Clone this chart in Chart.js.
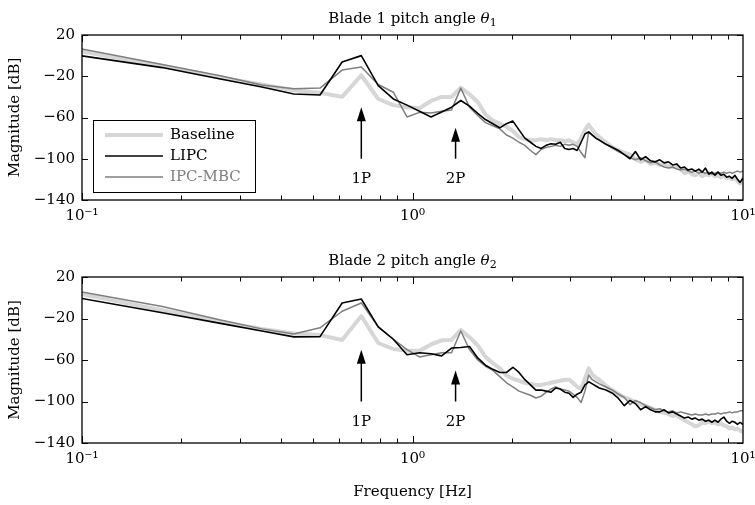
<!DOCTYPE html>
<html>
<head>
<meta charset="utf-8">
<script src="https://cdn.jsdelivr.net/npm/chart.js@4.4.1/dist/chart.umd.min.js"></script>
<style>
  html, body { margin: 0; padding: 0; background: #fff; }
  #wrap { position: relative; width: 755px; height: 505px; }
  .panel { position: absolute; left: 0; width: 755px; }
  #p1 { top: 0; height: 240px; }
  #p2 { top: 240px; height: 265px; }
</style>
</head>
<body>
<div id="wrap">
  <div class="panel" id="p1"><canvas id="c1"></canvas></div>
  <div class="panel" id="p2"><canvas id="c2"></canvas></div>
</div>
<script>
// frequency bins [Hz], shared by all curves
const freq = [
  0.0875, 0.175, 0.2625, 0.35, 0.4375, 0.525, 0.6125, 0.7, 0.7875, 0.875,
  0.9625, 1.05, 1.1375, 1.225, 1.3125, 1.4, 1.4875, 1.575, 1.6625, 1.75,
  1.8375, 1.925, 2.0125, 2.1, 2.1875, 2.275, 2.3625, 2.45, 2.5375, 2.625,
  2.7125, 2.8, 2.8875, 2.975, 3.0625, 3.15, 3.2375, 3.325, 3.4125, 3.5, 3.5875, 3.675,
  3.85, 4.025, 4.2, 4.375, 4.55, 4.725, 4.9, 5.075, 5.25, 5.425,
  5.6, 5.775, 5.95, 6.125, 6.3, 6.475, 6.65, 6.825, 7.0, 7.175,
  7.35, 7.525, 7.7, 7.875, 8.05, 8.225, 8.4, 8.575, 8.75, 8.925,
  9.1, 9.275, 9.45, 9.625, 9.8, 9.975, 10.15
];

// blade 1 magnitudes [dB]
const b1Baseline = [
  7.5, -10, -21.5, -28, -33.5, -36, -40, -19, -42, -48,
  -50, -51, -44, -40, -40, -31, -37.5, -45, -57, -63,
  -66, -69, -73, -79, -81, -82, -82, -81, -82, -81,
  -82, -82, -83, -82, -84, -86, -80, -72, -67, -72, -76, -79,
  -84, -89, -92, -94, -96, -100, -103, -101, -105, -104,
  -106, -105, -107, -108, -107, -110, -114, -112, -115, -116,
  -114, -117, -115, -116, -114, -117, -116, -118, -116, -119,
  -118, -120, -118, -122, -124, -121, -125
];
const b1Lipc = [
  2.5, -11.6, -22.7, -30.4, -37.2, -38.2, -6.2, 0, -29, -42,
  -48, -54, -59.5, -54.7, -50, -43.5, -49, -56, -62, -66,
  -70, -66, -63.5, -72, -80, -84, -88, -90, -87, -85.5,
  -86, -84, -90, -91, -90, -92, -84, -76, -74, -77, -80, -82,
  -86, -89, -92, -96, -100, -93, -101, -98, -102, -103,
  -101, -104, -103, -106, -105, -109, -108, -111, -110, -112,
  -110, -113, -109, -115, -113, -116, -113, -116, -115, -118,
  -117, -119, -116, -120, -123, -119, -121
];
const b1Mbc = [
  10, -8.5, -19.5, -28.5, -32.2, -31.5, -14, -11, -28, -35.5,
  -59.5, -55, -55.6, -54, -52.7, -31.5, -50, -58, -65, -68,
  -71, -77, -80, -84, -87, -92, -96, -91, -89, -88,
  -87, -88, -86, -87, -86, -88, -94, -99, -74, -77, -80, -82,
  -86, -89, -93, -96, -99, -101, -99, -102, -104, -103,
  -106, -108, -109, -108, -110, -111, -110, -112, -113, -112,
  -114, -113, -114, -113, -115, -114, -113, -114, -113, -114,
  -113, -114, -113, -112, -113, -112, -112
];

// blade 2 magnitudes [dB]
const b2Baseline = [
  7, -12, -23, -30, -34.5, -36, -40.7, -17.6, -43.6, -49.4,
  -51, -51, -45, -41, -40.7, -31, -38, -46, -57, -63,
  -68, -75, -78, -80, -82, -83, -84, -84, -83, -82,
  -81, -80, -79, -79, -82, -86, -88, -78, -68, -74, -77, -79,
  -85, -89, -93, -96, -98, -101, -103, -104, -106, -108,
  -110, -111, -112, -114, -113, -116, -118, -120, -122, -124,
  -123, -120, -121, -119, -121, -120, -122, -121, -123, -124,
  -126, -125, -127, -126, -128, -129, -130
];
const b2Lipc = [
  2.5, -14.4, -24.7, -32, -37.7, -37.5, -5, -1.2, -28, -40,
  -55, -53, -54, -56, -48.5, -48, -47, -58, -65, -69,
  -72, -72, -67, -72, -79, -84, -89, -89, -90, -91,
  -87, -88, -91, -92, -96, -93, -91, -84, -81, -83, -85, -87,
  -89, -92, -97, -104, -99, -102, -108, -105, -108, -110,
  -110, -108, -111, -110, -112, -114, -116, -115, -117, -116,
  -118, -117, -119, -118, -120, -118, -120, -117, -115, -119,
  -121, -119, -120, -122, -120, -122, -121
];
const b2Mbc = [
  9, -8.5, -21.5, -30, -35, -29, -13, -5, -28, -40,
  -50, -57, -55, -53, -53, -32, -50, -60, -66, -70,
  -76, -82, -86, -90, -92, -94, -96.6, -95, -91, -88,
  -86, -88, -89, -90, -93, -96, -101, -90, -74.5, -79, -81, -83,
  -86, -89, -93, -96, -103, -99, -101, -104, -106, -108,
  -107, -109, -110, -109, -111, -110, -111, -112, -113, -112,
  -113, -113, -112, -113, -112, -112, -111, -112, -111, -111,
  -110, -111, -110, -110, -109, -109, -109
];

const seriesNames = ['Baseline', 'LIPC', 'IPC-MBC'];
const xTickValues = [0.1, 1, 10];
const xTickLabels = ['10\u207B\u00B9', '10\u2070', '10\u00B9'];
const yTickValues = [-140, -100, -60, -20, 20];
const harmonicNames = ['1P', '2P'];
const harmonicFreqs = [0.7, 1.35];
const harmonicTips = [-50, -70];

const FONT = '"DejaVu Serif", serif';
const FS = 15;
const colBase = '#d6d6d6', colLipc = '#000000', colMbc = '#7f7f7f';
Chart.defaults.font.family = FONT;
Chart.defaults.font.size = FS;
Chart.defaults.color = '#000';

function pts(vals) {
  return freq.map((f, i) => ({ x: f, y: vals[i] }));
}

function drawTitle(ctx, cx, yb, sub) {
  const main = 'Blade ' + sub + ' pitch angle ';
  ctx.font = FS + 'px ' + FONT;
  const w1 = ctx.measureText(main).width;
  ctx.font = 'italic ' + FS + 'px ' + FONT;
  const w2 = ctx.measureText('\u03B8').width;
  ctx.font = '11px ' + FONT;
  const w3 = ctx.measureText(sub).width;
  let x0 = cx - (w1 + w2 + w3) / 2;
  ctx.textAlign = 'left';
  ctx.textBaseline = 'alphabetic';
  ctx.fillStyle = '#000';
  ctx.font = FS + 'px ' + FONT;
  ctx.fillText(main, x0, yb);
  ctx.font = 'italic ' + FS + 'px ' + FONT;
  ctx.fillText('\u03B8', x0 + w1, yb);
  ctx.font = '11px ' + FONT;
  ctx.fillText(sub, x0 + w1 + w2, yb + 3);
}

const decor = {
  id: 'decor',
  afterDraw(chart, args, opts) {
    const { ctx, chartArea: a, scales: { x, y } } = chart;
    ctx.save();
    ctx.strokeStyle = '#000';

    // inward ticks
    ctx.lineWidth = 1;
    ctx.beginPath();
    [0.1, 1].forEach(d => {
      for (let m = 1; m < 10; m++) {
        const px = Math.round(x.getPixelForValue(d * m)) + 0.5;
        const len = m === 1 ? 7 : 4.5;
        ctx.moveTo(px, a.bottom); ctx.lineTo(px, a.bottom - len);
        ctx.moveTo(px, a.top); ctx.lineTo(px, a.top + len);
      }
    });
    yTickValues.forEach(v => {
      const py = Math.round(y.getPixelForValue(v)) + 0.5;
      ctx.moveTo(a.left, py); ctx.lineTo(a.left + 6, py);
      ctx.moveTo(a.right, py); ctx.lineTo(a.right - 6, py);
    });
    ctx.stroke();

    // frame
    ctx.lineWidth = 1.3;
    ctx.strokeRect(a.left, a.top, a.right - a.left, a.bottom - a.top);

    // title
    drawTitle(ctx, (a.left + a.right) / 2, a.top - 12, opts.sub);

    // harmonic arrows
    ctx.fillStyle = '#000';
    harmonicFreqs.forEach((f, i) => {
      const px = x.getPixelForValue(f);
      const tip = y.getPixelForValue(harmonicTips[i]);
      const tail = y.getPixelForValue(-100);
      ctx.lineWidth = 1.5;
      ctx.beginPath();
      ctx.moveTo(px, tail); ctx.lineTo(px, tip + 10);
      ctx.stroke();
      ctx.beginPath();
      ctx.moveTo(px, tip); ctx.lineTo(px - 4.5, tip + 14); ctx.lineTo(px + 4.5, tip + 14);
      ctx.closePath(); ctx.fill();
      ctx.font = FS + 'px ' + FONT;
      ctx.textAlign = 'center'; ctx.textBaseline = 'middle';
      ctx.fillText(harmonicNames[i], px, y.getPixelForValue(-120));
    });

    // y axis title
    ctx.save();
    ctx.translate(15, (a.top + a.bottom) / 2);
    ctx.rotate(-Math.PI / 2);
    ctx.font = FS + 'px ' + FONT;
    ctx.textAlign = 'center'; ctx.textBaseline = 'middle';
    ctx.fillText('Magnitude [dB]', 0, 0);
    ctx.restore();

    if (opts.xTitle) {
      ctx.font = FS + 'px ' + FONT;
      ctx.textAlign = 'center'; ctx.textBaseline = 'middle';
      ctx.fillText('Frequency [Hz]', (a.left + a.right) / 2, a.bottom + 49);
    }

    // legend
    if (opts.legend) {
      const bx = 93, by = 120, bw = 162, bh = 72;
      ctx.fillStyle = '#fff';
      ctx.fillRect(bx, by, bw, bh);
      ctx.lineWidth = 1;
      ctx.strokeStyle = '#000';
      ctx.strokeRect(bx + 0.5, by + 0.5, bw, bh);
      const rows = [
        { c: colBase, w: 4, t: '#000', yy: 135 },
        { c: colLipc, w: 1.6, t: '#000', yy: 156 },
        { c: colMbc, w: 1.5, t: colMbc, yy: 177 }
      ];
      rows.forEach((r, i) => {
        ctx.strokeStyle = r.c; ctx.lineWidth = r.w;
        ctx.beginPath(); ctx.moveTo(105, r.yy); ctx.lineTo(163, r.yy); ctx.stroke();
        ctx.fillStyle = r.t;
        ctx.font = FS + 'px ' + FONT;
        ctx.textAlign = 'left'; ctx.textBaseline = 'middle';
        ctx.fillText(seriesNames[i], 170, r.yy);
      });
    }
    ctx.restore();
  }
};

function makeChart(id, base, lipc, mbc, opts) {
  return new Chart(document.getElementById(id), {
    type: 'line',
    data: {
      datasets: [
        { label: seriesNames[1], data: pts(lipc), borderColor: colLipc, borderWidth: 1.6, order: 0 },
        { label: seriesNames[2], data: pts(mbc), borderColor: colMbc, borderWidth: 1.5, order: 1 },
        { label: seriesNames[0], data: pts(base), borderColor: colBase, borderWidth: 4, order: 2 }
      ]
    },
    options: {
      responsive: true,
      maintainAspectRatio: false,
      animation: false,
      devicePixelRatio: 1,
      layout: { padding: { top: opts.top, right: 12, left: 0, bottom: 0 } },
      elements: {
        point: { radius: 0 },
        line: { tension: 0, borderJoinStyle: 'round', borderCapStyle: 'butt' }
      },
      datasets: { line: { clip: 0 } },
      plugins: {
        legend: { display: false },
        tooltip: { enabled: false },
        decor: opts
      },
      scales: {
        x: {
          type: 'logarithmic',
          min: 0.1, max: 10,
          grid: { display: false, drawTicks: false },
          border: { display: false },
          afterBuildTicks: s => { s.ticks = xTickValues.map(v => ({ value: v })); },
          afterFit: s => { s.height = opts.xh; s.paddingLeft = 0; s.paddingRight = 0; },
          ticks: {
            autoSkip: false, maxRotation: 0, padding: 7,
            callback: v => xTickLabels[xTickValues.indexOf(v)]
          }
        },
        y: {
          min: -140, max: 20,
          grid: { display: false, drawTicks: false },
          border: { display: false },
          afterBuildTicks: s => { s.ticks = yTickValues.map(v => ({ value: v })); },
          afterFit: s => { s.width = 82; s.paddingTop = 0; s.paddingBottom = 0; },
          ticks: {
            padding: 7,
            callback: v => (v < 0 ? '\u2212' + Math.abs(v) : String(v))
          }
        }
      }
    },
    plugins: [decor]
  });
}

makeChart('c1', b1Baseline, b1Lipc, b1Mbc, { top: 35, xh: 40, sub: '1', legend: true, xTitle: false });
makeChart('c2', b2Baseline, b2Lipc, b2Mbc, { top: 37, xh: 62, sub: '2', legend: false, xTitle: true });
</script>
</body>
</html>
